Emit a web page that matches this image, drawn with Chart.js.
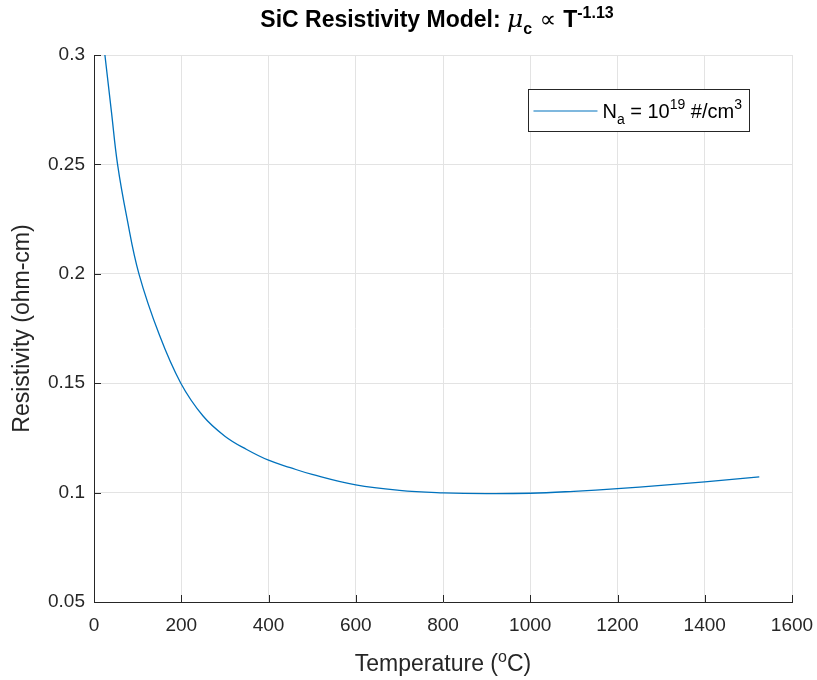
<!DOCTYPE html>
<html>
<head>
<meta charset="utf-8">
<script src="https://cdn.jsdelivr.net/npm/chart.js@4"></script>
<style>
  html, body { margin:0; padding:0; background:#fff; }
  #wrap { width:817px; height:680px; }
</style>
</head>
<body>
<div id="wrap"><canvas id="c" width="817" height="680"></canvas></div>
<script>
// temperature (deg C) and resistivity (ohm-cm)
const temps  = [25, 40, 54, 75, 103, 150, 199, 250, 300, 350, 400, 450, 500, 600, 700, 800, 900, 1000, 1100, 1200, 1300, 1400, 1525];
const resist = [0.300, 0.274, 0.250, 0.226, 0.200, 0.172, 0.150, 0.135, 0.1258, 0.1197, 0.1148, 0.1114, 0.1083, 0.1035, 0.1010, 0.0999, 0.0995, 0.0997, 0.1006, 0.1018, 0.1033, 0.1049, 0.1072];
const xTicks = [0, 200, 400, 600, 800, 1000, 1200, 1400, 1600];
const yTicks = [0.05, 0.1, 0.15, 0.2, 0.25, 0.3];

const FONT = '"Liberation Sans", Arial, Helvetica, sans-serif';
const INK = '#262626';

// draw text made of pieces, some raised or lowered
function drawRich(ctx, parts, x, y, align){
  let total = 0;
  parts.forEach(p=>{ ctx.font = p.font; p.w = ctx.measureText(p.t).width; total += p.w; });
  let cx = align === 'center' ? x - total/2 : x;
  ctx.textBaseline = 'alphabetic';
  ctx.textAlign = 'left';
  parts.forEach(p=>{
    ctx.font = p.font;
    ctx.fillText(p.t, cx, y + (p.dy || 0));
    cx += p.w;
  });
  return total;
}

const decor = {
  id: 'decor',
  afterDraw(chart){
    const {ctx, chartArea:a, scales:{x, y}} = chart;
    ctx.save();
    ctx.fillStyle = '#000';

    // title
    const tb = 'bold 23px ' + FONT, ts = 'bold 16px ' + FONT;
    drawRich(ctx, [
      {t:'SiC Resistivity Model: ', font:tb},
      {t:'\u03bc', font:'italic 25px "DejaVu Serif", serif'},
      {t:'c', font:ts, dy:7},
      {t:' \u221d ', font:'23px "DejaVu Sans", sans-serif'},
      {t:'T', font:tb},
      {t:'-1.13', font:ts, dy:-9}
    ], (a.left + a.right)/2 - 6, 27, 'center');

    // inward ticks
    ctx.strokeStyle = INK;
    ctx.lineWidth = 1;
    ctx.beginPath();
    xTicks.forEach(v=>{
      const px = Math.round(x.getPixelForValue(v)) + 0.5;
      ctx.moveTo(px, a.bottom); ctx.lineTo(px, a.bottom - 7);
    });
    yTicks.forEach(v=>{
      const py = Math.round(y.getPixelForValue(v)) + 0.5;
      ctx.moveTo(a.left, py); ctx.lineTo(a.left + 7, py);
    });
    ctx.stroke();

    // axis titles
    ctx.fillStyle = INK;
    drawRich(ctx, [
      {t:'Temperature (', font:'23px ' + FONT},
      {t:'o', font:'16px ' + FONT, dy:-9},
      {t:'C)', font:'23px ' + FONT}
    ], (a.left + a.right)/2, 671, 'center');

    ctx.save();
    ctx.translate(29, (a.top + a.bottom)/2);
    ctx.rotate(-Math.PI/2);
    ctx.font = '23px ' + FONT;
    ctx.textAlign = 'center';
    ctx.textBaseline = 'alphabetic';
    ctx.fillText('Resistivity (ohm-cm)', 0, 0);
    ctx.restore();

    // legend box
    const lf = '20px ' + FONT, ls = '14px ' + FONT;
    const parts = [
      {t:'N', font:lf},
      {t:'a', font:ls, dy:6},
      {t:' = 10', font:lf},
      {t:'19', font:ls, dy:-9},
      {t:' #/cm', font:lf},
      {t:'3', font:ls, dy:-9}
    ];
    let tw = 0;
    parts.forEach(p=>{ ctx.font = p.font; tw += ctx.measureText(p.t).width; });
    const bw = 5 + 64 + 5 + tw + 7, bh = 42;
    const bx = a.right - 43 - bw, by = a.top + 34;
    ctx.fillStyle = '#fff';
    ctx.fillRect(bx, by, bw, bh);
    ctx.strokeStyle = INK;
    ctx.strokeRect(Math.round(bx)+0.5, Math.round(by)+0.5, Math.round(bw), bh);
    ctx.strokeStyle = '#0072BD';
    ctx.lineWidth = 1.2;
    ctx.beginPath();
    ctx.moveTo(bx + 5, by + 22); ctx.lineTo(bx + 69, by + 22);
    ctx.stroke();
    ctx.fillStyle = '#000';
    drawRich(ctx, parts, bx + 74, by + 29, 'left');

    ctx.restore();
  }
};

new Chart(document.getElementById('c'), {
  type: 'scatter',
  data: {
    datasets: [{
      label: 'Na = 10^19 #/cm^3',
      data: temps.map((t, i)=>({x:t, y:resist[i]})),
      showLine: true,
      borderColor: '#0072BD',
      borderWidth: 1.3,
      pointRadius: 0,
      tension: 0.4,
      fill: false
    }]
  },
  options: {
    responsive: false,
    animation: false,
    layout: {padding: {top:55, right:25, left:0, bottom:0}},
    plugins: {legend:{display:false}, title:{display:false}, tooltip:{enabled:false}},
    scales: {
      x: {
        type: 'linear', min: 0, max: 1600,
        afterFit: s => { s.height = 78; s.paddingLeft = 0; s.paddingRight = 0; },
        afterBuildTicks: s => { s.ticks = xTicks.map(v=>({value:v})); },
        ticks: {color: INK, font:{family:FONT, size:19}, padding: 12, maxRotation:0,
                callback: v => String(v)},
        grid: {color:'#e3e3e3', drawTicks:false},
        border: {color: INK, width: 1}
      },
      y: {
        type: 'linear', min: 0.05, max: 0.3,
        afterFit: s => { s.width = 94; s.paddingTop = 0; s.paddingBottom = 0; },
        afterBuildTicks: s => { s.ticks = yTicks.map(v=>({value:v})); },
        ticks: {color: INK, font:{family:FONT, size:19}, padding: 9,
                callback: v => String(+v.toFixed(2))},
        grid: {color:'#e3e3e3', drawTicks:false},
        border: {color: INK, width: 1}
      }
    }
  },
  plugins: [decor]
});
</script>
</body>
</html>
